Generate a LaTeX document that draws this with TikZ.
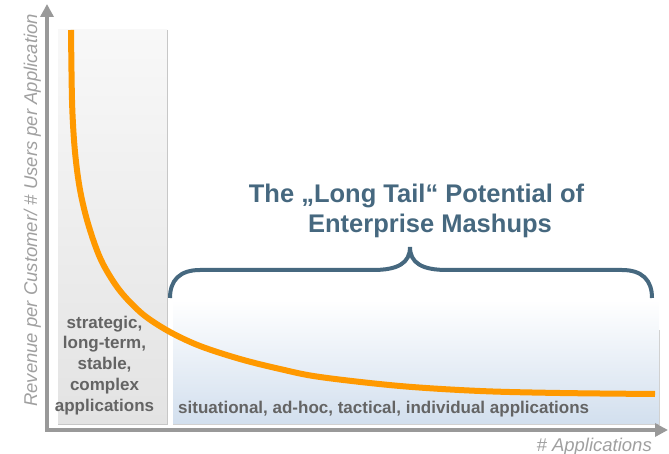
\documentclass[tikz,border=0pt]{standalone}
\usepackage{fontspec}
\setmainfont{Liberation Sans}
\usetikzlibrary{arrows.meta}
\definecolor{axisgray}{HTML}{999999}
\definecolor{labelgray}{HTML}{A0A0A0}
\definecolor{textgray}{HTML}{646464}
\definecolor{tailorange}{HTML}{FF9900}
\definecolor{slate}{HTML}{46687F}
\definecolor{panelgraytop}{HTML}{F8F8F8}
\definecolor{panelgraybot}{HTML}{E3E3E3}
\definecolor{panelblue}{HTML}{D2DFEE}
\tikzset{
  axisline/.style={draw=axisgray, line width=4pt, line join=miter,
    {Triangle[length=13pt,width=13pt]}-{Triangle[length=13pt,width=13pt]}},
  curveline/.style={draw=tailorange, line width=6pt},
  braceline/.style={draw=slate, line width=4pt},
  titletext/.style={text=slate, font=\bfseries\fontsize{25.5}{30}\selectfont, inner sep=0pt},
  boxtext/.style={text=textgray, font=\bfseries\fontsize{17}{20.75}\selectfont, inner sep=0pt},
  axistext/.style={text=labelgray, font=\itshape\fontsize{18.5}{22}\selectfont, inner sep=0pt}
}
\begin{document}
\begin{tikzpicture}[x=1pt,y=-1pt]
\useasboundingbox (0,0) rectangle (669,454);
% panels
\shade[top color=panelgraytop, bottom color=panelgraybot] (58,30) rectangle (167,424);
\draw[draw=black!22, line width=0.8pt] (167,30) -- (167,424) -- (58,424);
\shade[top color=white, bottom color=panelblue] (173,300) rectangle (659,424);
\draw[draw=black!18, line width=0.6pt] (659,330) -- (659,424) -- (173,424);
% axes
\coordinate (ytip) at (47,4);
\coordinate (origin) at (47,430);
\coordinate (xtip) at (668,430);
\draw[axisline] (ytip) -- (origin) -- (xtip);
% long tail curve
\draw[curveline] plot[smooth, tension=0.55] coordinates {
 (71,30) (72,100) (74,140) (77,170) (81,195) (87,220) (95,245) (103,264)
 (115,284) (127,299) (145,316) (170,332) (200,346) (240,359) (280,369)
 (320,377) (400,386) (480,391) (560,393) (655,394)};
% brace
\coordinate (bl) at (170,298);
\coordinate (bm) at (410,247);
\coordinate (br) at (652,298);
\draw[braceline] (bl) .. controls (170,280) and (180,270) .. (200,270)
  -- (373,270) .. controls (398,270) and (410,263) .. (bm)
  .. controls (410,263) and (422,270) .. (447,270)
  -- (622,270) .. controls (642,270) and (652,280) .. (br);
% texts
\node[titletext, anchor=base] (title1) at (416.5,203) {The „Long Tail“ Potential of};
\node[titletext, anchor=base] (title2) at (430,233) {Enterprise Mashups};
\node[boxtext, align=center, anchor=base] (strategic) at (104.5,411)
  {strategic,\\long-term,\\stable,\\complex\\applications};
\node[boxtext, anchor=base west] (situational) at (178,413)
  {situational, ad-hoc, tactical, individual applications};
\node[axistext, anchor=base east] (xlabel) at (652,451) {\# Applications};
\node[axistext, rotate=90, anchor=base west] (ylabel) at (37,407)
  {Revenue per Customer/ \# Users per Application};
\end{tikzpicture}
\end{document}
